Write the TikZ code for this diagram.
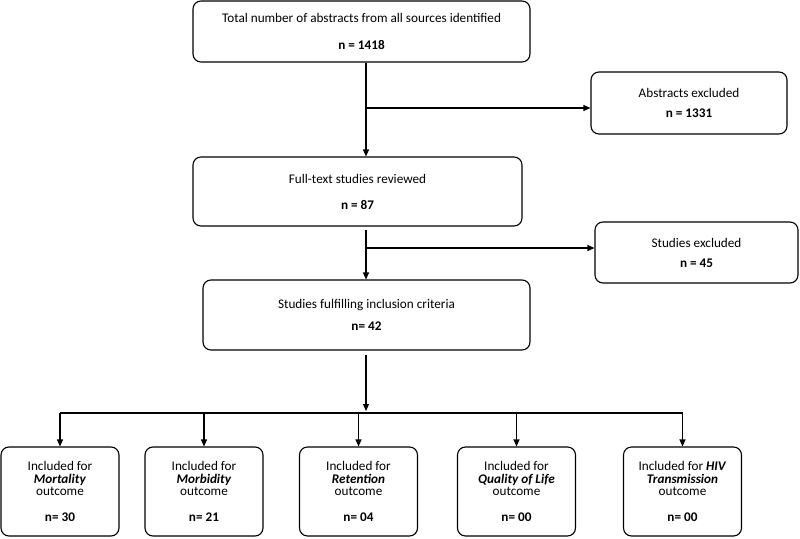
\documentclass[tikz,border=0pt]{standalone}
\usepackage{fontspec}
\setmainfont{Carlito}
\usepackage{tikz}
\usetikzlibrary{arrows.meta}
\tikzset{
	flowbox/.style={draw, line width=1.1pt, rounded corners=8pt, align=center, inner sep=0pt, font=\fontsize{13.2}{12.8}\selectfont},
	outbox/.style={flowbox, minimum width=118pt, minimum height=89pt},
	flowarrow/.style={line width=1.1pt, -{Triangle[length=7pt,width=6pt]}}
}
\def\outc#1{\textbf{\textit{#1}}}

\begin{document}
\begin{tikzpicture}[x=1pt, y=-1pt]
		%%%%% START %%%%%
		
		\useasboundingbox (0, 0) rectangle (800, 538);
		
		\node[flowbox, minimum width=337pt, minimum height=61pt] (total) at (361.5, 31.5) {Total number of abstracts from all sources identified\\[14.2pt]\textbf{n = 1418}};
		\node[flowbox, minimum width=196pt, minimum height=62pt] (absexcl) at (689, 103) {Abstracts excluded\\[7.2pt]\textbf{n = 1331}};
		\node[flowbox, minimum width=329pt, minimum height=69pt] (fulltext) at (357.5, 191.5) {Full-text studies reviewed\\[13.2pt]\textbf{n = 87}};
		\node[flowbox, minimum width=203pt, minimum height=61pt] (studexcl) at (696.5, 252.5) {Studies excluded\\[7.2pt]\textbf{n = 45}};
		\node[flowbox, minimum width=327pt, minimum height=70pt] (fulfil) at (366.5, 315) {Studies fulfilling inclusion criteria\\[9.2pt]\textbf{n= 42}};
		
		\node[outbox] (mort) at (60, 491.5) {Included for\\\outc{Mortality}\\outcome\\[13.2pt]\textbf{n= 30}};
		\node[outbox] (morb) at (204, 491.5) {Included for\\\outc{Morbidity}\\outcome\\[13.2pt]\textbf{n= 21}};
		\node[outbox] (ret) at (358.5, 491.5) {Included for\\\outc{Retention}\\outcome\\[13.2pt]\textbf{n= 04}};
		\node[outbox] (qol) at (516.5, 491.5) {Included for\\\outc{Quality of Life}\\outcome\\[13.2pt]\textbf{n= 00}};
		\node[outbox] (hiv) at (682.5, 491.5) {Included for \outc{HIV}\\\outc{Transmission}\\outcome\\[13.2pt]\textbf{n= 00}};
		
		\coordinate (split1) at (366, 108);
		\coordinate (split2) at (366, 248);
		\coordinate (split3) at (366, 413);
		
		\draw[flowarrow] (total.south -| split1) -- (fulltext.north -| split1);
		\draw[flowarrow] (split1) -- (absexcl.west |- split1);
		
		\draw[flowarrow] ([yshift=-3pt]fulltext.south -| split2) -- (fulfil.north -| split2);
		\draw[flowarrow] (split2) -- (studexcl.west |- split2);
		
		\draw[flowarrow] ([yshift=-4pt]fulfil.south -| split3) -- ([yshift=2pt]split3);
		\draw[line width=1.1pt] (mort.north |- split3) -- (hiv.north |- split3);
		\foreach \b in {mort, morb, ret, qol, hiv}
			\draw[flowarrow] (\b.north |- split3) -- (\b.north);
		
		%%%%% END %%%%%
	\end{tikzpicture}
\end{document}
